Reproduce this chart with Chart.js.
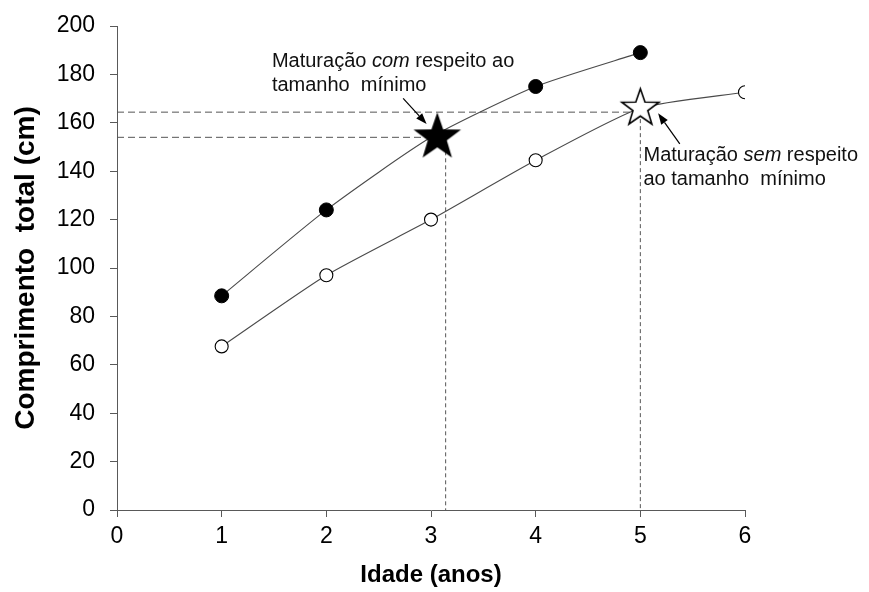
<!DOCTYPE html>
<html><head><meta charset="utf-8">
<script src="https://cdn.jsdelivr.net/npm/chart.js@4.4.1/dist/chart.umd.min.js"></script>
<style>html,body{margin:0;padding:0;background:#fff}#wrap{width:869px;height:592px}</style>
</head><body><div id="wrap"><canvas id="c" width="869" height="592"></canvas></div>
<script>
// ---- data ----
const agesWith = [1, 2, 3, 4, 5];
const lengthWith = [88.5, 124, 154, 175, 189];
const agesWithout = [1, 2, 3, 4, 5, 6];
const lengthWithout = [67.6, 97, 120, 144.5, 166, 172.6];
const starWithAge = 3.06, starWithLength = 154;
const starWithoutAge = 5, starWithoutLength = 166;
const refWithAge = 3.14, refWithLength = 154;
const refWithoutAge = 5, refWithoutLength = 164.4;
const xTickValues = [0, 1, 2, 3, 4, 5, 6];
const yTickValues = [0, 20, 40, 60, 80, 100, 120, 140, 160, 180, 200];
const xTitle = 'Idade (anos)';
const yTitle = 'Comprimento  total (cm)';
const note1 = [[['Maturação ', false], ['com', true], [' respeito ao', false]], [['tamanho  mínimo', false]]];
const note2 = [[['Maturação ', false], ['sem', true], [' respeito', false]], [['ao tamanho  mínimo', false]]];
// annotation anchors (data units)
const note1Pos = {x: 1.48, y: 183.0}, note2Pos = {x: 5.03, y: 144.1};
const arrow1 = {from: {x: 2.734, y: 170.1}, to: {x: 2.958, y: 159.5}};
const arrow2 = {from: {x: 5.377, y: 151.3}, to: {x: 5.170, y: 163.9}};

function makeStar(R, fill, stroke, lw) {
  const size = Math.ceil(2 * R + 2 * lw + 2);
  const cv = document.createElement('canvas');
  cv.width = size; cv.height = size;
  const c = cv.getContext('2d');
  const cx = size / 2, cy = size / 2, r = R * 0.40;
  c.beginPath();
  for (let i = 0; i < 10; i++) {
    const rad = i % 2 === 0 ? R : r;
    const a = -Math.PI / 2 + i * Math.PI / 5;
    const px = cx + rad * Math.cos(a), py = cy + rad * Math.sin(a);
    i === 0 ? c.moveTo(px, py) : c.lineTo(px, py);
  }
  c.closePath();
  c.fillStyle = fill; c.fill();
  if (stroke) { c.lineWidth = lw; c.strokeStyle = stroke; c.lineJoin = 'miter'; c.stroke(); }
  return cv;
}
const starFilled = makeStar(25, '#000', null, 0);
const starOpen = makeStar(19.5, '#fff', '#000', 1.6);

const FONT = '"Liberation Sans", Arial, sans-serif';
const lineGray = '#4a4a4a';
const dashGray = '#555555';

const notesPlugin = {
  id: 'notes',
  afterDatasetsDraw(chart) {
    const ctx = chart.ctx, xs = chart.scales.x, ys = chart.scales.y;
    ctx.save();
    ctx.fillStyle = '#111';
    ctx.textBaseline = 'alphabetic';
    ctx.textAlign = 'left';
    const size = 20, lh = 23.4;
    function drawNote(lines, pos) {
      let x0 = xs.getPixelForValue(pos.x), y = ys.getPixelForValue(pos.y);
      lines.forEach(segs => {
        let x = x0;
        segs.forEach(([t, it]) => {
          ctx.font = (it ? 'italic ' : '') + size + 'px ' + FONT;
          ctx.fillText(t, x, y);
          x += ctx.measureText(t).width;
        });
        y += lh;
      });
    }
    drawNote(note1, note1Pos);
    drawNote(note2, note2Pos);
    function drawArrow(a) {
      const x1 = xs.getPixelForValue(a.from.x), y1 = ys.getPixelForValue(a.from.y);
      const x2 = xs.getPixelForValue(a.to.x), y2 = ys.getPixelForValue(a.to.y);
      const ang = Math.atan2(y2 - y1, x2 - x1), L = 11, W = 4;
      const bx = x2 - L * Math.cos(ang), by = y2 - L * Math.sin(ang);
      ctx.strokeStyle = '#000'; ctx.lineWidth = 1.2;
      ctx.beginPath(); ctx.moveTo(x1, y1); ctx.lineTo(bx, by); ctx.stroke();
      ctx.fillStyle = '#000';
      ctx.beginPath();
      ctx.moveTo(x2, y2);
      ctx.lineTo(bx + W * Math.sin(ang), by - W * Math.cos(ang));
      ctx.lineTo(bx - W * Math.sin(ang), by + W * Math.cos(ang));
      ctx.closePath(); ctx.fill();
    }
    drawArrow(arrow1);
    drawArrow(arrow2);
    ctx.restore();
  }
};

const withPts = agesWith.map((a, i) => ({x: a, y: lengthWith[i]}));
const withoutPts = agesWithout.map((a, i) => ({x: a, y: lengthWithout[i]}));

new Chart(document.getElementById('c'), {
  type: 'scatter',
  data: {
    datasets: [
      {
        data: [{x: 0, y: refWithLength}, {x: refWithAge, y: refWithLength}],
        showLine: true, borderColor: dashGray, borderWidth: 1, borderDash: [7, 4], pointRadius: 0, order: 3
      },
      {
        data: [{x: refWithAge, y: refWithLength}, {x: refWithAge, y: 0}],
        showLine: true, borderColor: dashGray, borderWidth: 1, borderDash: [4, 3], pointRadius: 0, order: 3
      },
      {
        data: [{x: 0, y: refWithoutLength}, {x: refWithoutAge, y: refWithoutLength}],
        showLine: true, borderColor: dashGray, borderWidth: 1, borderDash: [7, 4], pointRadius: 0, order: 3
      },
      {
        data: [{x: refWithoutAge, y: refWithoutLength}, {x: refWithoutAge, y: 0}],
        showLine: true, borderColor: dashGray, borderWidth: 1, borderDash: [4, 3], pointRadius: 0, order: 3
      },
      {
        label: 'com respeito',
        data: withPts, showLine: true, tension: 0.2,
        borderColor: lineGray, borderWidth: 1.1,
        pointRadius: agesWith.map(a => a === 3 ? 0 : 7),
        pointBackgroundColor: '#000', pointBorderColor: '#000', pointBorderWidth: 1, order: 2
      },
      {
        label: 'sem respeito',
        data: withoutPts, showLine: true, tension: 0.2,
        borderColor: lineGray, borderWidth: 1.1,
        pointRadius: agesWithout.map(a => a === 5 ? 0 : 6.5),
        pointBackgroundColor: '#fff', pointBorderColor: '#000', pointBorderWidth: 1.1, order: 2
      },
      {
        data: [{x: starWithAge, y: starWithLength}], pointStyle: starFilled, pointRadius: 25, order: 1
      },
      {
        data: [{x: starWithoutAge, y: starWithoutLength}], pointStyle: starOpen, pointRadius: 21, order: 1
      }
    ]
  },
  options: {
    responsive: false, animation: false, devicePixelRatio: 1,
    layout: {padding: {left: 0, right: 124, top: 11, bottom: 0}},
    plugins: {legend: {display: false}, tooltip: {enabled: false}},
    scales: {
      x: {
        type: 'linear', min: 0, max: 6,
        afterBuildTicks: s => { s.ticks = xTickValues.map(v => ({value: v})); },
        afterFit: s => { s.height = 82; s.paddingLeft = 0; s.paddingRight = 0; s.paddingTop = 0; s.paddingBottom = 0; },
        ticks: {color: '#000', font: {family: FONT, size: 23}, padding: 6},
        grid: {display: true, drawOnChartArea: false, drawTicks: true, tickLength: 7, color: '#595959'},
        border: {display: true, color: '#595959', width: 1},
        title: {display: true, text: xTitle, color: '#000', font: {family: FONT, size: 24, weight: 'bold'}, padding: {top: 0, bottom: 2}}
      },
      y: {
        type: 'linear', min: 0, max: 200,
        afterBuildTicks: s => { s.ticks = yTickValues.map(v => ({value: v})); },
        afterFit: s => { s.width = 117; s.paddingTop = 0; s.paddingBottom = 0; s.paddingLeft = 0; s.paddingRight = 0; },
        ticks: {color: '#000', font: {family: FONT, size: 23}, padding: 15},
        grid: {display: true, drawOnChartArea: false, drawTicks: true, tickLength: 7, color: '#595959'},
        border: {display: true, color: '#595959', width: 1},
        title: {display: true, text: yTitle, color: '#000', font: {family: FONT, size: 28, weight: 'bold'}, padding: {top: 9, bottom: 0}}
      }
    }
  },
  plugins: [notesPlugin]
});
</script></body></html>
